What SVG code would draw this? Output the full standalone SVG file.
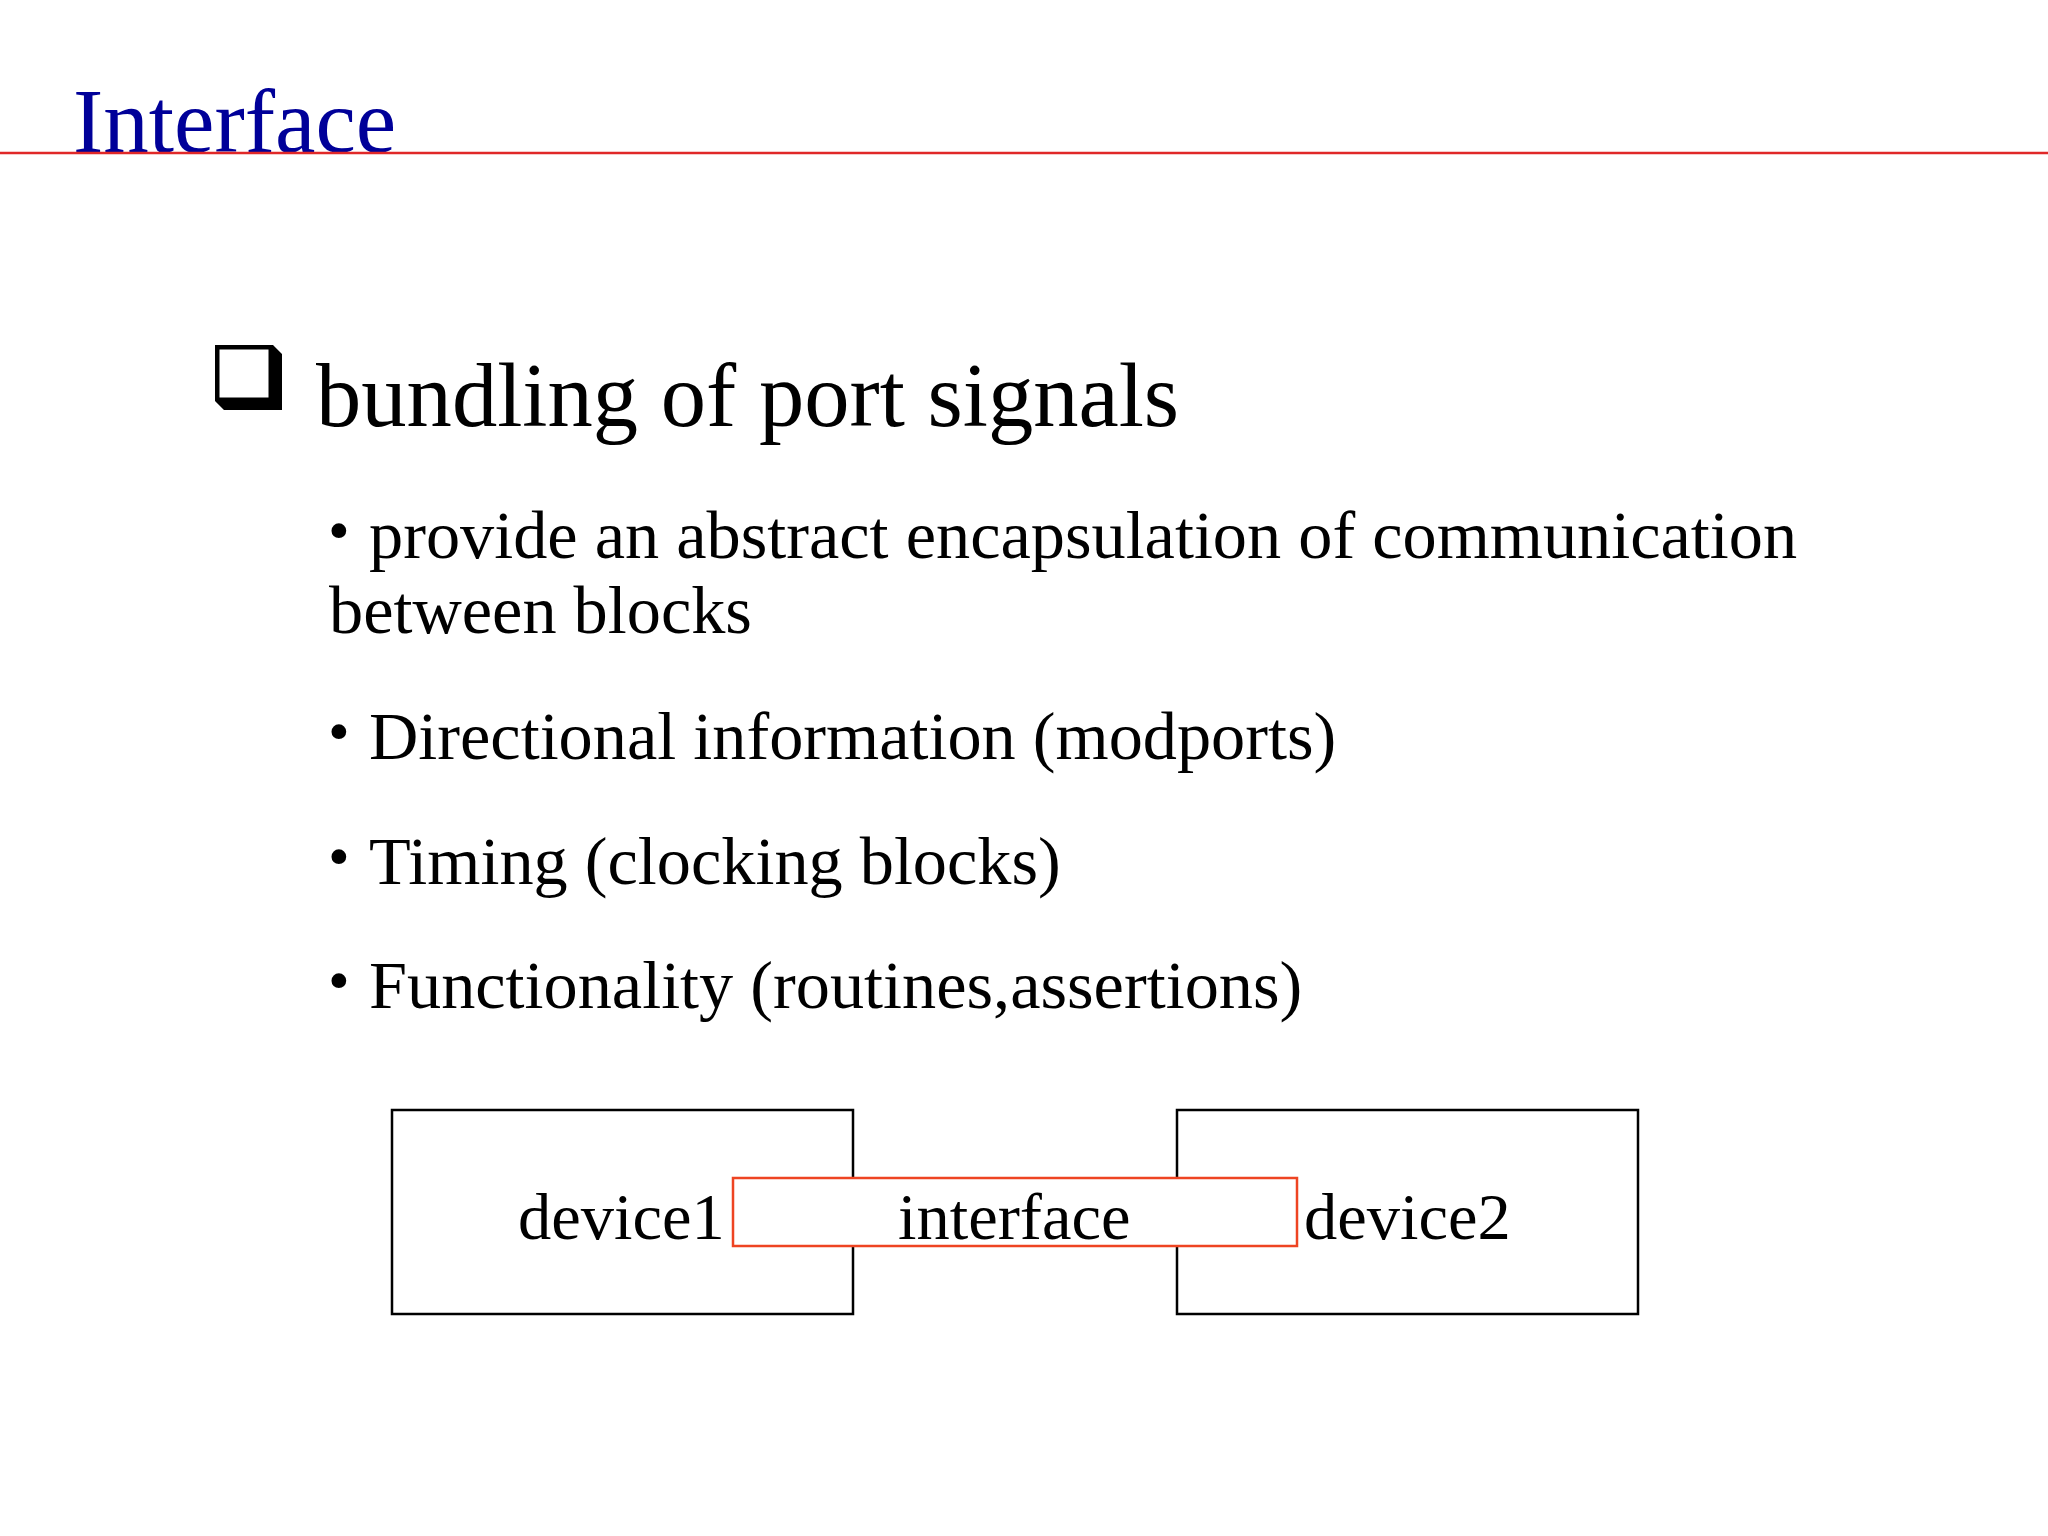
<svg xmlns="http://www.w3.org/2000/svg" width="2048" height="1536" viewBox="0 0 2048 1536">
<style>
text{font-family:"Liberation Serif","Times New Roman",serif;fill:#000}
.title{font-size:91px;fill:#000099}
.h1{font-size:90.6px}
.b{font-size:68.3px}
.dot{font-size:62px}
.lbl{font-size:66.5px}
.dev{fill:#fff;stroke:#000;stroke-width:2.5}
.itf{fill:#fff;stroke:#EE4422;stroke-width:2.5}
</style>
<rect width="2048" height="1536" fill="#fff"/>
<g id="header">
<text class="title" x="73" y="152">Interface</text>
<line x1="0" y1="153" x2="2048" y2="153" stroke="#E02828" stroke-width="2.5"/>
</g>
<g id="checkbox">
<polygon points="273,345 282,354 282,410 224,410 215,401 273,401" fill="#000"/>
<rect x="215" y="345" width="58" height="56" fill="#000"/>
<rect x="219.5" y="349.5" width="49" height="48" fill="#fff"/>
</g>
<g id="bullets">
<text class="h1" x="316" y="426">bundling of port signals</text>
<text class="dot" x="328" y="551">•</text>
<text class="b" x="369" y="558">provide an abstract encapsulation of communication</text>
<text class="b" x="329" y="633">between blocks</text>
<text class="dot" x="328" y="752">•</text>
<text class="b" x="369" y="759">Directional information (modports)</text>
<text class="dot" x="328" y="877">•</text>
<text class="b" x="369" y="884">Timing (clocking blocks)</text>
<text class="dot" x="328" y="1001">•</text>
<text class="b" x="369" y="1008">Functionality (routines,assertions)</text>
</g>
<g id="connectors"></g>
<g id="device1">
<rect class="dev" x="392" y="1110" width="461" height="204"/>
<text class="lbl" x="518" y="1239">device1</text>
</g>
<g id="device2">
<rect class="dev" x="1177" y="1110" width="461" height="204"/>
<text class="lbl" x="1304" y="1239">device2</text>
</g>
<g id="interface">
<rect class="itf" x="733" y="1178" width="564" height="68"/>
<text class="lbl" x="898" y="1239">interface</text>
</g>
</svg>
